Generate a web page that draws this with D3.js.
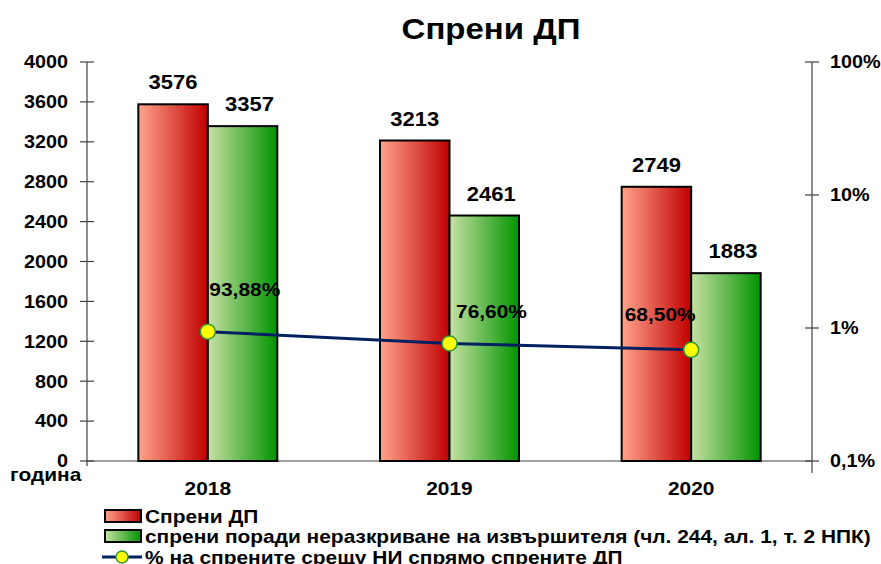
<!DOCTYPE html>
<html>
<head>
<meta charset="utf-8">
<style>
  body { margin: 0; background: #fff; }
  text { font-family: Arial, "Liberation Sans", sans-serif; font-weight: bold; fill: #000; }
</style>
</head>
<body>
<svg id="chart" width="881" height="564"></svg>
<script src="https://d3js.org/d3.v7.min.js"></script>
<script>
  const years = ["2018", "2019", "2020"];
  const stopped = [3576, 3213, 2749];
  const unknownPerp = [3357, 2461, 1883];
  const pctLabels = ["93,88%", "76,60%", "68,50%"];
  const pctValues = [93.88, 76.60, 68.50];
  const leftTicks = [0, 400, 800, 1200, 1600, 2000, 2400, 2800, 3200, 3600, 4000];
  const rightTicks = [0.1, 1, 10, 100];
  const legendNames = [
    "Спрени ДП",
    "спрени поради неразкриване на извършителя (чл. 244, ал. 1, т. 2 НПК)",
    "% на спрените срещу НИ спрямо спрените ДП"
  ];

  const svg = d3.select("#chart");
  const pL = 87, pR = 812, pT = 62, pB = 461;

  const x = d3.scaleBand().domain(years).range([pL, pR]);
  const xs = d3.scaleBand().domain([0, 1]).range([0, 139]);
  const y = d3.scaleLinear().domain([0, 4000]).range([pB, pT]);
  const yr = d3.scaleLog().domain([0.1, 100]).range([pB, pT]);

  const defs = svg.append("defs");
  function grad(id, c1, c2) {
    const g = defs.append("linearGradient").attr("id", id)
      .attr("x1", "0%").attr("x2", "100%").attr("y1", "0%").attr("y2", "0%");
    g.append("stop").attr("offset", "0%").attr("stop-color", c1);
    g.append("stop").attr("offset", "100%").attr("stop-color", c2);
  }
  grad("gRed", "#ffa38c", "#c00000");
  grad("gGreen", "#c8e1a4", "#009400");

  // title
  svg.append("text").attr("x", 491).attr("y", 39).attr("text-anchor", "middle")
    .style("font-size", "30px").text("Спрени ДП");

  // baseline
  svg.append("line").attr("x1", pL).attr("x2", pR).attr("y1", pB).attr("y2", pB)
    .attr("stroke", "#808080").attr("stroke-width", 1.5);

  // left axis
  const la = svg.append("g");
  la.append("line").attr("x1", pL).attr("x2", pL).attr("y1", pT).attr("y2", pB + 5)
    .attr("stroke", "#404040").attr("stroke-width", 1.2);
  la.selectAll("line.t").data(leftTicks).join("line").attr("class", "t")
    .attr("x1", pL - 7).attr("x2", pL + 7)
    .attr("y1", d => y(d)).attr("y2", d => y(d))
    .attr("stroke", "#404040").attr("stroke-width", 1.2);
  la.selectAll("text").data(leftTicks).join("text")
    .attr("x", 68).attr("y", d => y(d)).attr("dy", "0.35em").attr("text-anchor", "end")
    .style("font-size", "18px").text(d => d);

  // right axis
  const ra = svg.append("g");
  ra.append("line").attr("x1", pR).attr("x2", pR).attr("y1", pT).attr("y2", pB + 12)
    .attr("stroke", "#404040").attr("stroke-width", 1.2);
  ra.selectAll("line.t").data(rightTicks).join("line").attr("class", "t")
    .attr("x1", pR - 7).attr("x2", pR + 7)
    .attr("y1", d => yr(d)).attr("y2", d => yr(d))
    .attr("stroke", "#404040").attr("stroke-width", 1.2);
  ra.selectAll("text").data(rightTicks).join("text")
    .attr("x", 830).attr("y", d => yr(d)).attr("dy", "0.35em")
    .style("font-size", "18px").text(d => String(d).replace(".", ",") + "%");

  // x labels
  svg.selectAll("text.xl").data(years).join("text").attr("class", "xl")
    .attr("x", d => x(d) + x.bandwidth() / 2).attr("y", 495).attr("text-anchor", "middle")
    .style("font-size", "19px").text(d => d);
  svg.append("text").attr("x", 10).attr("y", 481).style("font-size", "19px").text("година");

  // bars
  const series = [
    { vals: stopped, fill: "url(#gRed)" },
    { vals: unknownPerp, fill: "url(#gGreen)" }
  ];
  series.forEach((s, si) => {
    svg.append("g").selectAll("rect").data(years).join("rect")
      .attr("x", d => x(d) + x.bandwidth() / 2 - 69.5 + xs(si))
      .attr("width", xs.bandwidth())
      .attr("y", (d, i) => y(s.vals[i]))
      .attr("height", (d, i) => pB - y(s.vals[i]))
      .attr("fill", s.fill).attr("stroke", "#000").attr("stroke-width", 2);
    svg.append("g").selectAll("text").data(years).join("text")
      .attr("x", d => x(d) + x.bandwidth() / 2 - 69.5 + xs(si) + xs.bandwidth() / 2 + (si ? 7 : 0))
      .attr("y", (d, i) => y(s.vals[i]) - 15)
      .attr("text-anchor", "middle").style("font-size", "20px")
      .text((d, i) => s.vals[i]);
  });

  // percent line
  const cx = d => x(d) + x.bandwidth() / 2;
  const line = d3.line().x((d, i) => cx(years[i])).y(d => yr(d / 100));
  svg.append("path").datum(pctValues).attr("d", line)
    .attr("fill", "none").attr("stroke", "#002060").attr("stroke-width", 3);
  svg.append("g").selectAll("circle").data(pctValues).join("circle")
    .attr("cx", (d, i) => cx(years[i])).attr("cy", d => yr(d / 100)).attr("r", 7.5)
    .attr("fill", "#ffff00").attr("stroke", "#339933").attr("stroke-width", 1.5);
  const pctOff = [[37, -36], [42, -25], [-31, -29]];
  svg.append("g").selectAll("text").data(pctValues).join("text")
    .attr("x", (d, i) => cx(years[i]) + pctOff[i][0])
    .attr("y", (d, i) => yr(d / 100) + pctOff[i][1])
    .attr("text-anchor", "middle").style("font-size", "19px")
    .text((d, i) => pctLabels[i]);

  // legend
  const lg = svg.append("g");
  const ly = [516, 536, 557];
  [0, 1].forEach(i => {
    lg.append("rect").attr("x", 105).attr("y", ly[i] - 6).attr("width", 36).attr("height", 12)
      .attr("fill", i ? "url(#gGreen)" : "url(#gRed)").attr("stroke", "#000").attr("stroke-width", 2);
  });
  lg.append("line").attr("x1", 102).attr("x2", 142).attr("y1", ly[2]).attr("y2", ly[2])
    .attr("stroke", "#002060").attr("stroke-width", 3);
  lg.append("circle").attr("cx", 122).attr("cy", ly[2]).attr("r", 6)
    .attr("fill", "#ffff00").attr("stroke", "#339933").attr("stroke-width", 1.5);
  lg.selectAll("text").data(legendNames).join("text")
    .attr("x", 145).attr("y", (d, i) => ly[i]).attr("dy", "0.36em")
    .style("font-size", "19px").text(d => d);

  // the original text looks horizontally stretched
  svg.selectAll("text").each(function() {
    const w = this.getComputedTextLength();
    d3.select(this).attr("textLength", w * 1.1).attr("lengthAdjust", "spacingAndGlyphs");
  });
</script>
</body>
</html>
